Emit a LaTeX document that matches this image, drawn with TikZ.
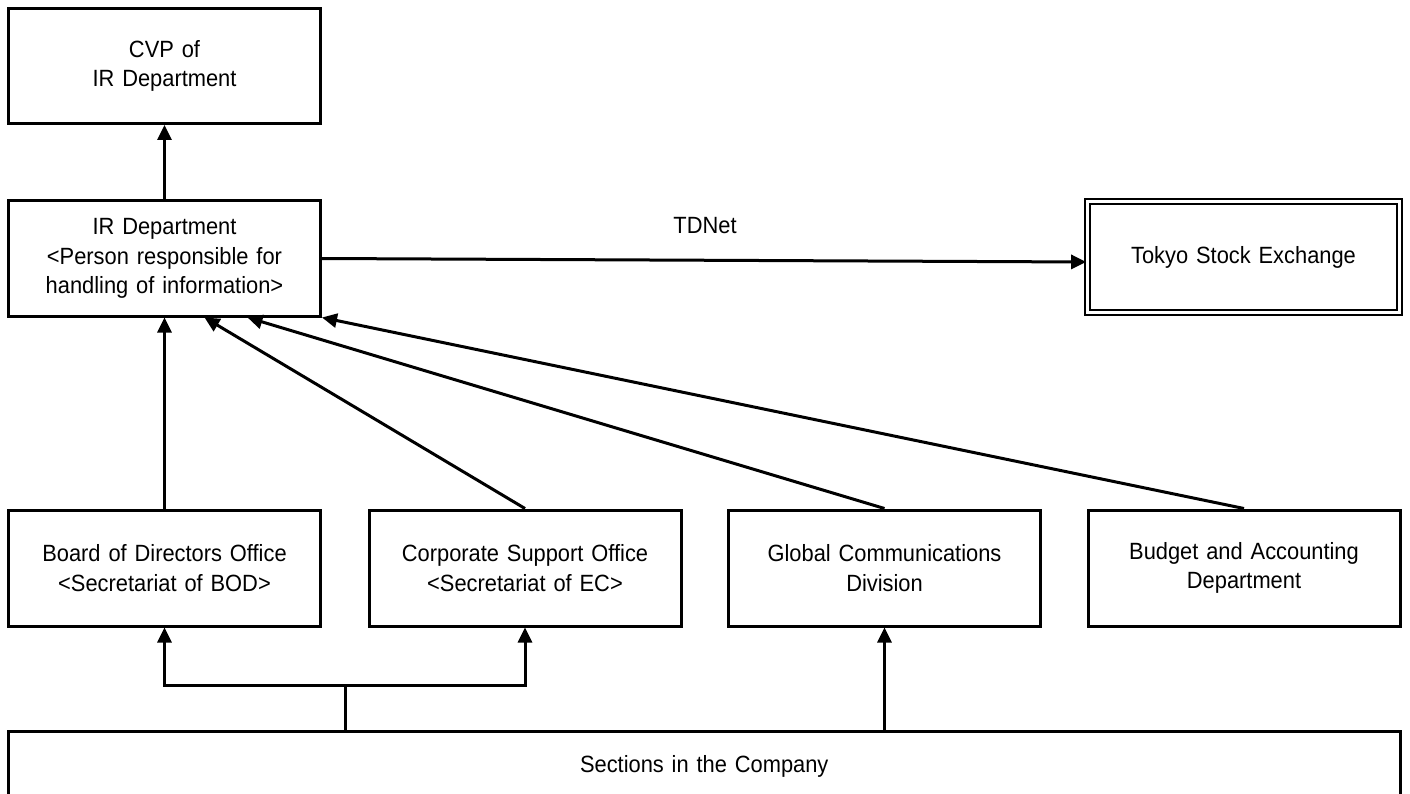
\documentclass[tikz,border=0pt]{standalone}
\usepackage{fontspec}
\setmainfont{Liberation Sans}[WordSpace=1.3, FakeStretch=0.93]
\usetikzlibrary{arrows.meta}
\begin{document}
\begin{tikzpicture}[x=1pt,y=-1pt,
  txt/.style={font=\fontsize{23.5}{29.5}\selectfont},
  box/.style={draw, line width=3pt, minimum width=312pt, minimum height=115pt,
    align=center, inner sep=0pt, txt},
  arr/.style={line width=3pt, -{Triangle[length=15pt,width=14pt]}},
  ln/.style={line width=3pt}]
\clip (0,0) rectangle (1410,794);
\fill[white] (0,0) rectangle (1410,794);

\node[box] (cvp) at (164.5,66) {CVP of\\IR Department};
\node[box] (ir) at (164.5,258.5) {IR Department\\<Person responsible for\\handling of information>};
\node[box, double, double distance=2.4pt, line width=2.6pt, minimum height=111pt] (tse) at (1243.5,257) {Tokyo Stock Exchange};

\node[box, minimum height=116pt] (board) at (164.5,568) {Board of Directors Office\\<Secretariat of BOD>};
\node[box, minimum height=116pt] (corp) at (525,568) {Corporate Support Office\\<Secretariat of EC>};
\node[box, minimum height=116pt] (glob) at (884.5,568) {Global Communications\\Division};
\node[box, minimum height=116pt] (budget) at (1244,568) {Budget and Accounting\\Department};

\node[box, minimum width=1392pt, minimum height=70pt] (sec) at (704.25,766) {Sections in the Company};

\node[txt] (tdnet) at (705,226) {TDNet};

% connectors
\draw[arr] (ir.north) -- (cvp.south);
\draw[arr] (ir.east) -- ([yshift=-5pt]tse.west);

\draw[arr] (board.north) -- (ir.south);
\draw[arr] (corp.north) -- ([xshift=40pt]ir.south);
\draw[arr] (glob.north) -- ([xshift=83pt]ir.south);
\draw[arr] (budget.north) -- (ir.south east);

\coordinate (fork) at (345,685);
\draw[ln] (sec.north -| fork) -- (fork);
\draw[arr] (fork) -| (board.south);
\draw[arr] (fork) -| (corp.south);
\draw[arr] (sec.north -| glob.south) -- (glob.south);
\end{tikzpicture}
\end{document}
